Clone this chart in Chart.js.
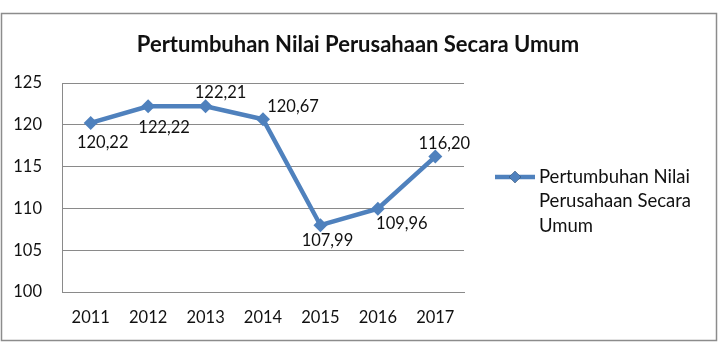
<!DOCTYPE html>
<html>
<head>
<meta charset="utf-8">
<script src="https://cdn.jsdelivr.net/npm/chart.js@4"></script>
<style>
    html, body { margin: 0; padding: 0; background: #fff; }
    #wrap { position: relative; width: 723px; height: 346px; }
</style>
</head>
<body>
<div id="wrap"><canvas id="growthChart" width="723" height="346"></canvas></div>
<script>
// Data
const years = ['2011', '2012', '2013', '2014', '2015', '2016', '2017'];
const values = [120.22, 122.22, 122.21, 120.67, 107.99, 109.96, 116.20];
const valueLabels = ['120,22', '122,22', '122,21', '120,67', '107,99', '109,96', '116,20'];
const yMin = 100;
const yMax = 125;
const yStep = 5;
const seriesName = 'Pertumbuhan Nilai Perusahaan Secara Umum';
const chartTitle = 'Pertumbuhan Nilai Perusahaan Secara Umum';

// Styling
const lineColor = '#4F81BD';
const textColor = '#111111';
const gridColor = '#8a8a8a';
const fontFamily = 'Lato, "Open Sans", sans-serif';
// where each value label sits relative to its point (dx, dy)
const labelOffsets = [[12, 20], [16, 21], [15, -14], [30, -13], [7, 15], [24, 15], [9, -13]];

const frameAndText = {
    id: 'frameAndText',
    afterDraw(chart) {
        const ctx = chart.ctx;
        ctx.save();

        // outer frame
        ctx.strokeStyle = '#8c8c8c';
        ctx.lineWidth = 1.5;
        ctx.strokeRect(1.5, 13.5, 715, 327);

        // title
        ctx.fillStyle = textColor;
        ctx.font = 'bold 22px ' + fontFamily;
        ctx.textAlign = 'center';
        ctx.textBaseline = 'alphabetic';
        ctx.fillText(chartTitle, 358, 52);

        // value labels
        const meta = chart.getDatasetMeta(0);
        ctx.font = '16.5px ' + fontFamily;
        ctx.textBaseline = 'middle';
        meta.data.forEach((pt, i) => {
            const [dx, dy] = labelOffsets[i];
            ctx.fillText(valueLabels[i], pt.x + dx, pt.y + dy);
        });

        // legend
        const lx = 495, ly = 177;
        ctx.strokeStyle = lineColor;
        ctx.lineWidth = 4.5;
        ctx.beginPath();
        ctx.moveTo(lx, ly);
        ctx.lineTo(lx + 40, ly);
        ctx.stroke();
        Chart.helpers.drawPoint(ctx, { pointStyle: 'rectRot', radius: 6, rotation: 0 }, lx + 20, ly);
        ctx.fillStyle = lineColor;
        ctx.fill();

        // wrap legend text
        ctx.fillStyle = textColor;
        ctx.textAlign = 'left';
        ctx.font = '18.5px ' + fontFamily;
        const words = seriesName.split(' ');
        const lines = [];
        let cur = '';
        words.forEach(w => {
            const test = cur ? cur + ' ' + w : w;
            if (ctx.measureText(test).width > 175 && cur) {
                lines.push(cur);
                cur = w;
            } else {
                cur = test;
            }
        });
        if (cur) lines.push(cur);
        lines.forEach((line, i) => {
            ctx.fillText(line, lx + 44, ly + i * 24.5);
        });

        ctx.restore();
    }
};

const ctx = document.getElementById('growthChart').getContext('2d');
new Chart(ctx, {
    type: 'line',
    data: {
        labels: years,
        datasets: [{
            label: seriesName,
            data: values,
            borderColor: lineColor,
            backgroundColor: lineColor,
            borderWidth: 4.5,
            pointStyle: 'rectRot',
            pointRadius: 7,
            pointBorderWidth: 0,
            pointBackgroundColor: lineColor,
            tension: 0,
            fill: false
        }]
    },
    options: {
        responsive: false,
        animation: false,
        layout: {
            padding: { top: 83, right: 259, left: 0, bottom: 0 }
        },
        scales: {
            y: {
                min: yMin,
                max: yMax,
                ticks: {
                    stepSize: yStep,
                    color: textColor,
                    font: { family: fontFamily, size: 16.5 },
                    padding: 20
                },
                grid: { color: gridColor, drawTicks: false },
                border: { color: gridColor },
                afterFit(scale) { scale.width = 62; }
            },
            x: {
                offset: true,
                ticks: {
                    color: textColor,
                    font: { family: fontFamily, size: 16.5 },
                    padding: 16
                },
                grid: { display: false, drawTicks: false },
                border: { color: gridColor },
                afterFit(scale) { scale.height = 54; }
            }
        },
        plugins: {
            legend: { display: false },
            title: { display: false },
            tooltip: { enabled: false }
        }
    },
    plugins: [frameAndText]
});
</script>
</body>
</html>
